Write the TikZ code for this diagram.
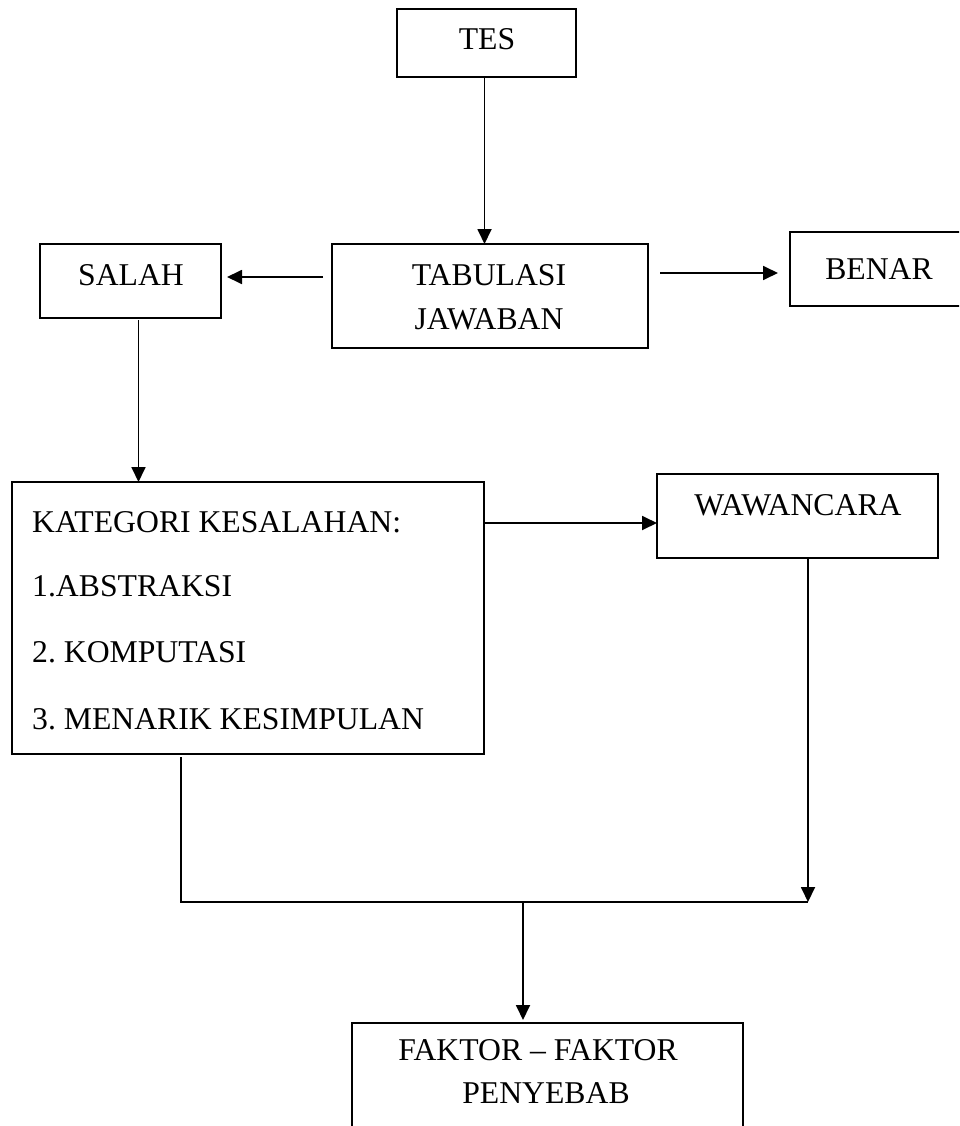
\documentclass[tikz,border=0pt]{standalone}
\usepackage{fontspec}
\setmainfont{Liberation Serif}
\usetikzlibrary{arrows.meta}
\tikzset{
  box/.style={draw=black, line width=2.2pt, inner sep=0pt, outer sep=0pt, anchor=north west},
  txt/.style={inner sep=0pt, anchor=base, font=\fontsize{31.7pt}{44pt}\selectfont},
  txtl/.style={txt, anchor=base west},
  conn/.style={draw=black, line width=1.8pt},
  arr/.style={conn, -{Triangle[length=15pt,width=14pt]}}
}
\frenchspacing
\begin{document}
\begin{tikzpicture}[x=1pt,y=-1pt]
\useasboundingbox (0,0) rectangle (959,1126);
\clip (0,0) rectangle (959,1126);
% boxes
\node[box, minimum width=179pt, minimum height=68pt] (tes) at (397,9) {};
\node[box, minimum width=316pt, minimum height=104pt] (tab) at (332,244) {};
\node[box, minimum width=181pt, minimum height=74pt] (salah) at (40,244) {};
\node[box, minimum width=200pt, minimum height=74pt] (benar) at (790,232) {};
\node[box, minimum width=472pt, minimum height=272pt] (kat) at (12,482) {};
\node[box, minimum width=281pt, minimum height=84pt] (waw) at (657,474) {};
\node[box, minimum width=391pt, minimum height=130pt] (fak) at (352,1023) {};
% texts
\node[txt] (tesT) at (487,50) {TES};
\node[txt] (tabT1) at (489,285) {TABULASI};
\node[txt] (tabT2) at (489,329) {JAWABAN};
\node[txt] (salahT) at (131,285) {SALAH};
\node[txt] (benarT) at (879,279) {BENAR};
\node[txt] (wawT) at (798,515) {WAWANCARA};
\node[txtl] (katT1) at (32,532) {KATEGORI KESALAHAN:};
\node[txtl] (katT2) at (32,596) {1.ABSTRAKSI};
\node[txtl] (katT3) at (32,662) {2. KOMPUTASI};
\node[txtl] (katT4) at (32,729) {3. MENARIK KESIMPULAN};
\node[txt] (fakT1) at (538,1060) {FAKTOR -- FAKTOR};
\node[txt] (fakT2) at (546,1103) {PENYEBAB};
% junction coordinates
\coordinate (jl) at (181,902);
\coordinate (jr) at (808,902);
\coordinate (jm) at (523,902);
% connectors
\draw[arr] ([xshift=-2pt]tes.south) -- ([xshift=-2pt]tes.south |- tab.north);
\draw[arr, shorten <=9pt, shorten >=6pt] ([yshift=4pt]salah.east -| tab.west) -- ([yshift=4pt]salah.east);
\draw[arr, shorten <=12pt, shorten >=12pt] ([yshift=-4pt]benar.west -| tab.east) -- ([yshift=-4pt]benar.west);
\draw[arr, shorten <=2pt] ([xshift=8pt]salah.south) -- ([xshift=8pt]salah.south |- kat.north);
\draw[arr] ([yshift=-7pt]waw.west -| kat.east) -- ([yshift=-7pt]waw.west);
\draw[conn, shorten <=3pt] (kat.south -| jl) -- (jl) -- (jr);
\draw[arr] (waw.south -| jr) -- (jr);
\draw[arr, shorten >=3pt] (jm) -- (jm |- fak.north);
\end{tikzpicture}
\end{document}
